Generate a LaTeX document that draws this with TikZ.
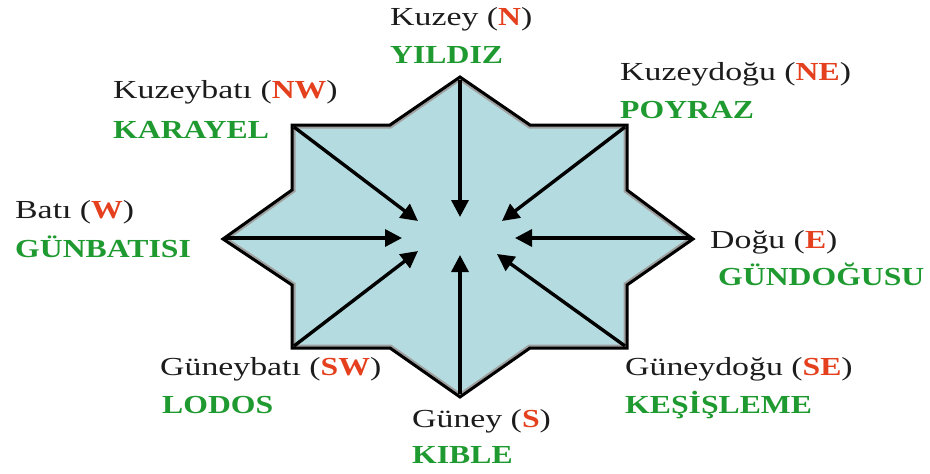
\documentclass[tikz,border=0pt]{standalone}
\usepackage{fontspec}
\setmainfont{Liberation Serif}[FakeStretch=1.3, BoldFeatures={FakeStretch=1.22}]
\usetikzlibrary{arrows.meta}

\definecolor{starfill}{HTML}{B4DCE0}
\definecolor{dirred}{HTML}{E5401E}
\definecolor{windgreen}{HTML}{1F9A30}
\definecolor{inktext}{HTML}{1C1C1C}

\tikzset{
  dirlabel/.style={anchor=base west, inner sep=0pt, text=inktext,
    font=\fontsize{26}{31}\selectfont},
  windlabel/.style={anchor=base west, inner sep=0pt, text=windgreen,
    font=\fontsize{26}{31}\selectfont\bfseries},
  windarrow/.style={line width=3.4pt, draw=black,
    -{Triangle[length=17pt,width=17pt]}},
}
\newcommand{\abbr}[1]{\textcolor{dirred}{\textbf{#1}}}

\begin{document}
\begin{tikzpicture}[x=1pt, y=-1pt]
\useasboundingbox (0,0) rectangle (930,474);

% star outline points
\coordinate (tN)  at (460,77);
\coordinate (tNE) at (627,125);
\coordinate (tE)  at (693,239);
\coordinate (tSE) at (627,348);
\coordinate (tS)  at (460,397);
\coordinate (tSW) at (292,348);
\coordinate (tW)  at (223,239);
\coordinate (tNW) at (292,125);

\def\starpath{(tN) -- (530,125) -- (tNE) -- (627,190) -- (tE) -- (627,285)
  -- (tSE) -- (530,348) -- (tS) -- (390,348) -- (tSW) -- (292,285)
  -- (tW) -- (292,190) -- (tNW) -- (390,125) -- cycle}

% eight-pointed star with a shaded inner rim
\fill[starfill] \starpath;
\begin{scope}
  \clip \starpath;
  \draw[gray!75, line width=7pt, line join=miter] \starpath;
\end{scope}
\draw[black, line width=3pt, line join=miter] \starpath;

% wind arrow heads near the centre
\coordinate (hN)  at (460,217);
\coordinate (hNE) at (502,221);
\coordinate (hE)  at (515,238);
\coordinate (hSE) at (497,254);
\coordinate (hS)  at (460,255);
\coordinate (hSW) at (418,251);
\coordinate (hW)  at (402,238);
\coordinate (hNW) at (418,221);

\coordinate (sN)  at (460,80);
\coordinate (sNE) at (625,127);
\coordinate (sE)  at (690,238);
\coordinate (sSE) at (625,346);
\coordinate (sS)  at (460,394);
\coordinate (sSW) at (294,346);
\coordinate (sW)  at (226,238);
\coordinate (sNW) at (294,127);

\foreach \d in {N,NE,E,SE,S,SW,W,NW}
  \draw[windarrow] (s\d) -- (h\d);

% direction names and local wind names
\node[dirlabel]  (lN)   at (390,25)  {Kuzey (\abbr{N})};
\node[windlabel] (wN)   at (390,63)  {YILDIZ};

\node[dirlabel]  (lNE)  at (620,80)  {Kuzeydoğu (\abbr{NE})};
\node[windlabel] (wNE)  at (620,118) {POYRAZ};

\node[dirlabel]  (lNW)  at (113,98)  {Kuzeybatı (\abbr{NW})};
\node[windlabel] (wNW)  at (113,138) {KARAYEL};

\node[dirlabel]  (lW)   at (15,218)  {Batı (\abbr{W})};
\node[windlabel] (wW)   at (15,257)  {GÜNBATISI};

\node[dirlabel]  (lE)   at (710,248) {Doğu (\abbr{E})};
\node[windlabel] (wE)   at (718,285) {GÜNDOĞUSU};

\node[dirlabel]  (lSW)  at (160,375) {Güneybatı (\abbr{SW})};
\node[windlabel] (wSW)  at (162,413) {LODOS};

\node[dirlabel]  (lSE)  at (625,375) {Güneydoğu (\abbr{SE})};
\node[windlabel] (wSE)  at (625,413) {KEŞİŞLEME};

\node[dirlabel]  (lS)   at (412,427) {Güney (\abbr{S})};
\node[windlabel] (wS)   at (412,463) {KIBLE};
\end{tikzpicture}
\end{document}
